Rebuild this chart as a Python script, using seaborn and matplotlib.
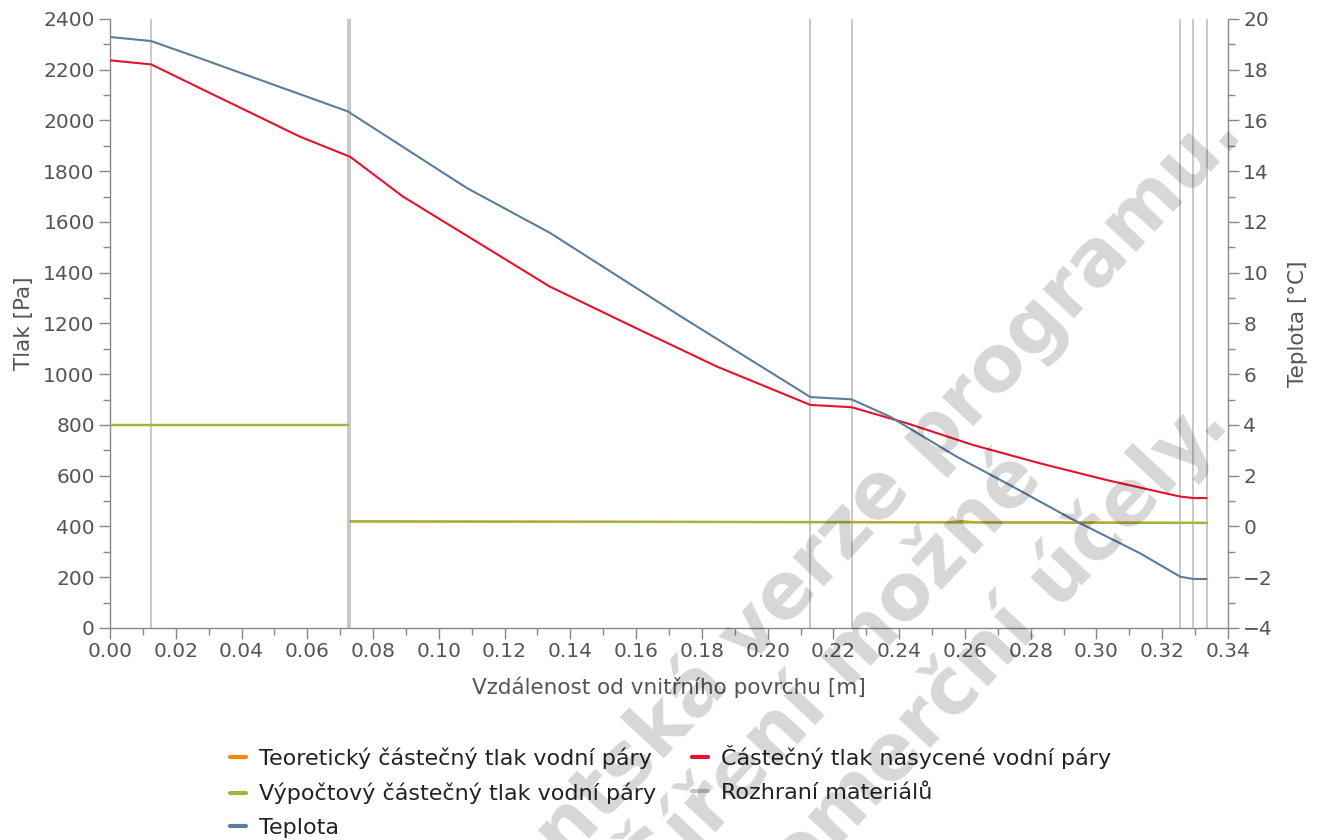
import matplotlib
matplotlib.use("Agg")
import pandas as pd
import matplotlib.pyplot as plt
from matplotlib.lines import Line2D
from matplotlib.ticker import MultipleLocator, FormatStrFormatter
import seaborn as sns

# rozhrani materialu [m]
interfaces = [0.0125, 0.0725, 0.073, 0.213, 0.2255, 0.3255, 0.3295, 0.3335]

# teplota [°C]
temp_x = [0.0, 0.0125, 0.0274, 0.0725, 0.073, 0.1085, 0.1338, 0.1743, 0.213,
          0.2255, 0.2372, 0.2575, 0.2727, 0.2930, 0.3133, 0.3255, 0.3295, 0.3335]
temp_y = [19.29, 19.13, 18.45, 16.35, 16.30, 13.34, 11.57, 8.22, 5.10,
          5.01, 4.33, 2.75, 1.70, 0.26, -1.06, -1.98, -2.07, -2.07]

# castecny tlak nasycene vodni pary [Pa]
sat_x = [0.0, 0.0125, 0.0274, 0.0578, 0.073, 0.0891, 0.1338, 0.1591,
         0.1846, 0.213, 0.2255, 0.2423, 0.2625, 0.2828, 0.3031, 0.3233,
         0.3255, 0.3295, 0.3335]
sat_y = [2237, 2221, 2127, 1936, 1857, 1700, 1345, 1187,
         1030, 879, 870, 807, 721, 649, 583, 524,
         518, 512, 512]

# vypoctovy castecny tlak vodni pary [Pa], dva useky
calc_x = [0.0, 0.0725, 0.073, 0.3335]
calc_y = [800, 800, 420, 414]
calc_seg = [1, 1, 2, 2]

# teoreticky castecny tlak vodni pary [Pa]
theo_x = [0.0, 0.0725, 0.073, 0.2555, 0.259, 0.2625, 0.3335]
theo_y = [800, 800, 420, 417, 421, 417, 414]
theo_seg = [1, 1, 2, 2, 2, 2, 2]

labels = ["Teoretický částečný tlak vodní páry",
          "Výpočtový částečný tlak vodní páry",
          "Teplota",
          "Částečný tlak nasycené vodní páry",
          "Rozhraní materiálů"]

c_orange = "#f7890c"
c_red = "#e8112d"
c_green = "#a2b43c"
c_blue = "#5a7d9c"
c_gray = "#c4c4c4"
c_text = "#555555"

sns.set_style("white")
plt.rcParams["font.family"] = ["DejaVu Sans"]

fig = plt.figure(figsize=(13.21, 8.4), dpi=100)
ax = fig.add_axes([0.0833, 0.2524, 0.8463, 0.725])

for xi in interfaces:
    ax.axvline(xi, color=c_gray, lw=1.3, zorder=1)

theo = pd.DataFrame({"x": theo_x, "p": theo_y, "seg": theo_seg})
sns.lineplot(data=theo, x="x", y="p", units="seg", estimator=None,
             color=c_orange, lw=1.6, ax=ax, zorder=2)
sat = pd.DataFrame({"x": sat_x, "p": sat_y})
sns.lineplot(data=sat, x="x", y="p", color=c_red, lw=1.5, ax=ax, zorder=3)
calc = pd.DataFrame({"x": calc_x, "p": calc_y, "seg": calc_seg})
sns.lineplot(data=calc, x="x", y="p", units="seg", estimator=None,
             color=c_green, lw=1.6, ax=ax, zorder=4)

ax.set_xlim(0, 0.34)
ax.set_ylim(0, 2400)
ax.xaxis.set_major_locator(MultipleLocator(0.02))
ax.xaxis.set_minor_locator(MultipleLocator(0.01))
ax.xaxis.set_major_formatter(FormatStrFormatter("%.2f"))
ax.yaxis.set_major_locator(MultipleLocator(200))
ax.yaxis.set_minor_locator(MultipleLocator(100))
ax.set_xlabel("Vzdálenost od vnitřního povrchu [m]", fontsize=15.5, color=c_text, labelpad=11)
ax.set_ylabel("Tlak [Pa]", fontsize=15.5, color=c_text, labelpad=7)

ax2 = ax.twinx()
temp = pd.DataFrame({"x": temp_x, "t": temp_y})
sns.lineplot(data=temp, x="x", y="t", color=c_blue, lw=1.5, ax=ax2)
ax2.set_ylim(-4, 20)
ax2.yaxis.set_major_locator(MultipleLocator(2))
ax2.yaxis.set_minor_locator(MultipleLocator(1))
ax2.set_ylabel("Teplota [°C]", fontsize=15.5, color=c_text, labelpad=11)
ax2.set_xlabel("")

for a in (ax, ax2):
    for side in ("top", "left", "right", "bottom"):
        a.spines[side].set_visible(False)
    a.tick_params(which="major", length=8, width=1, color="#888888",
                  labelsize=14.5, labelcolor=c_text, direction="out")
    a.tick_params(which="minor", length=5, width=1, color="#888888", direction="out")
ax.spines["left"].set_visible(True)
ax.spines["bottom"].set_visible(True)
ax2.spines["right"].set_visible(True)
for s in (ax.spines["left"], ax.spines["bottom"], ax2.spines["right"]):
    s.set_color("#888888")
    s.set_linewidth(1)
ax.tick_params(axis="x", which="both", bottom=True, pad=2)
ax.tick_params(axis="y", which="both", left=True, pad=3)
ax2.tick_params(axis="y", which="both", right=True, pad=3)

handles = [Line2D([], [], color=c_orange, lw=3),
           Line2D([], [], color=c_green, lw=3),
           Line2D([], [], color=c_blue, lw=3),
           Line2D([], [], color=c_red, lw=3),
           Line2D([], [], color=c_gray, lw=3)]
fig.legend(handles, labels, loc="upper left", bbox_to_anchor=(0.174, 0.113),
           ncol=2, frameon=False, fontsize=16, handlelength=0.72,
           handletextpad=0.6, columnspacing=1.6, labelspacing=0.62,
           borderaxespad=0, borderpad=0)
for t in fig.legends[0].get_texts():
    t.set_color("#222222")

# vodoznak studentske verze
wm = dict(rotation=47, rotation_mode="anchor", ha="right", va="baseline",
          fontsize=56, fontweight="bold", color="black", alpha=0.16, zorder=10)
fig.text(1245 / 1321, 1 - 135 / 840, "Studentská verze programu.", **wm)
fig.text(1045 / 1321, 1 - 480 / 840, "Šíření možné", **wm)
fig.text(1232 / 1321, 1 - 425 / 840, "pouze pro nekomerční účely.", **wm)

fig.savefig("out.png", dpi=100)
